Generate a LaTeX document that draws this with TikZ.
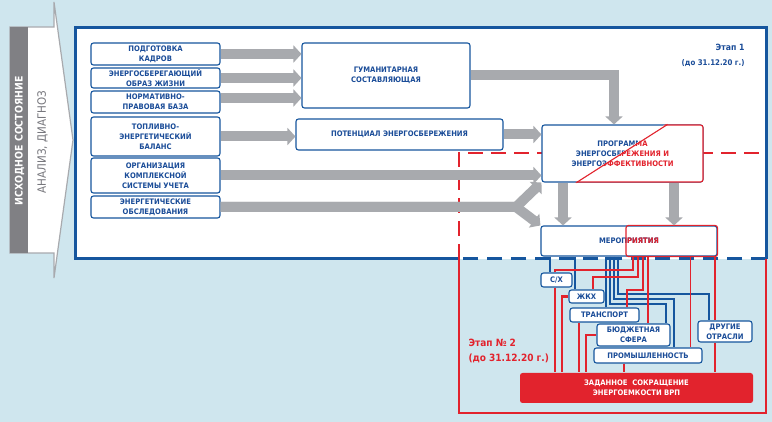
\documentclass[tikz,border=0pt]{standalone}
\usepackage{fontspec}
\newfontfamily\cfont{DejaVu Sans Condensed}
\usetikzlibrary{arrows.meta,positioning}

\definecolor{bgblue}{RGB}{207,230,238}
\definecolor{eblue}{RGB}{22,86,158}
\definecolor{tblue}{RGB}{26,76,152}
\definecolor{ered}{RGB}{226,35,45}
\definecolor{agray}{RGB}{168,170,174}
\definecolor{dgray}{RGB}{128,128,132}
\definecolor{tgray}{RGB}{118,118,124}

\newcommand{\lbl}{\cfont\bfseries\fontsize{7.6}{10}\selectfont}

\begin{document}
\begin{tikzpicture}[x=1pt,y=-1pt,
  box/.style={draw=eblue,fill=white,rounded corners=2.5pt,line width=1.1pt,align=center,text=tblue,font=\lbl,inner sep=0pt},
  garrow/.style={agray,line width=10pt,-{Triangle[length=8pt,width=17pt]}},
  bwire/.style={draw=eblue,line width=2.2pt},
  rwire/.style={draw=ered,line width=2.2pt}]

    % Frame and stages
	\useasboundingbox (0,0) rectangle (772,422);
	\fill[bgblue] (0,0) rectangle (772,422);
	\draw[agray,line width=1.2pt,fill=white] (10,27) -- (54,27) -- (54,2) -- (73,140) -- (54,278) -- (54,253) -- (10,253) -- cycle;
	\fill[dgray] (10,27) rectangle (28,253);
	\node [rotate=90,text=white,font=\cfont\bfseries\fontsize{10.4}{12}\selectfont] at (19.5,141) (start) {ИСХОДНОЕ СОСТОЯНИЕ};
	\node [rotate=90,text=tgray,font=\cfont\fontsize{11.5}{12}\selectfont] at (42.5,142) (diag) {АНАЛИЗ,\ ДИАГНОЗ};

	\fill[white] (75,28) rectangle (766,259);
	\draw[eblue,line width=3pt] (459,259) -- (75,259) -- (75,28) -- (766,28) -- (766,259);
	\draw[eblue,line width=3pt,dash pattern=on 15pt off 9pt] (766,259) -- (459,259);
	\draw[ered,line width=2.4pt,dash pattern=on 15pt off 8pt] (459,259) -- (459,153) -- (766,153);
	\draw[ered,line width=2.4pt] (766,259) -- (766,413) -- (459,413) -- (459,259);

	\node [anchor=north east,align=right,text=tblue,font=\cfont\bfseries\fontsize{7.8}{14.5}\selectfont] at (748,41) (et1) {\fontsize{8.6}{14.5}\selectfont Этап 1\\(до 31.12.20 г.)};
	\node [anchor=north west,align=left,text=ered,font=\cfont\bfseries\fontsize{10}{14.5}\selectfont] at (465,336) (et2) {Этап № 2\\(до 31.12.20 г.)};

    % The boxes
	\node [box,minimum width=129pt,minimum height=22pt] at (155.5,54) (kadry) {ПОДГОТОВКА\\КАДРОВ};
	\node [box,minimum width=129pt,minimum height=20pt] at (155.5,78) (obraz) {ЭНЕРГОСБЕРЕГАЮЩИЙ\\ОБРАЗ ЖИЗНИ};
	\node [box,minimum width=129pt,minimum height=22pt] at (155.5,102) (norm) {НОРМАТИВНО-\\ПРАВОВАЯ БАЗА};
	\node [box,minimum width=129pt,minimum height=39pt] at (155.5,136.5) (balans) {ТОПЛИВНО-\\ЭНЕРГЕТИЧЕСКИЙ\\БАЛАНС};
	\node [box,minimum width=129pt,minimum height=35pt] at (155.5,175.5) (uchet) {ОРГАНИЗАЦИЯ\\КОМПЛЕКСНОЙ\\СИСТЕМЫ УЧЕТА};
	\node [box,minimum width=129pt,minimum height=22pt] at (155.5,207) (obsl) {ЭНЕРГЕТИЧЕСКИЕ\\ОБСЛЕДОВАНИЯ};

	\node [box,minimum width=168pt,minimum height=65pt] at (386,75.5) (hum) {ГУМАНИТАРНАЯ\\СОСТАВЛЯЮЩАЯ};
	\node [box,minimum width=207pt,minimum height=31pt] at (399.5,134.5) (pot) {ПОТЕНЦИАЛ ЭНЕРГОСБЕРЕЖЕНИЯ};
	\node [box,minimum width=161pt,minimum height=57pt] at (622.5,153.5) (prog) {ПРОГРАММА\\ЭНЕРГОСБЕРЕЖЕНИЯ И\\ЭНЕРГОЭФФЕКТИВНОСТИ};
	\begin{scope}
	\clip (675,118) -- (712,118) -- (712,190) -- (564,190) -- cycle;
	\node [box,draw=ered,text=ered,minimum width=161pt,minimum height=57pt] at (prog) (progR) {ПРОГРАММА\\ЭНЕРГОСБЕРЕЖЕНИЯ И\\ЭНЕРГОЭФФЕКТИВНОСТИ};
	\end{scope}
	\draw[ered,line width=1.1pt] ([xshift=-36pt]prog.north east) -- ([xshift=35pt]prog.south west);

	\node [box,minimum width=176pt,minimum height=30pt] at (629,241) (mer) {МЕРОПРИЯТИЯ};
	\draw[ered,line width=1.1pt,rounded corners=2.5pt] ([xshift=-3pt]mer.north) rectangle (mer.south east);
	\begin{scope}
	\clip (626,220) rectangle (720,262);
	\node [box,draw=none,fill=none,text=ered,minimum width=176pt,minimum height=30pt] at (mer) (merR) {МЕРОПРИЯТИЯ};
	\end{scope}

	% Graph edges
	\path[garrow]
	(kadry.east) edge (kadry.east -| hum.west)
	(obraz.east) edge (obraz.east -| hum.west)
	([yshift=4pt]norm.east) edge ([yshift=4pt]norm.east -| hum.west)
	(balans.east) edge (balans.east -| pot.west)
	(pot.east) edge (pot.east -| prog.west)
	(uchet.east) edge (uchet.east -| prog.west)
	([xshift=-59.5pt]prog.south) edge ([xshift=-59.5pt]prog.south |- mer.north)
	([xshift=51.5pt]prog.south) edge ([xshift=51.5pt]prog.south |- mer.north)
	;
	\coordinate (split) at (516,207);
	\draw[garrow] (hum.east) -| ([xshift=-8.5pt]prog.north);
	\draw[garrow] (obsl.east) -- (split) -- (prog.south west);
	\draw[garrow] (obsl.east) -- (split) -- (mer.north west);

    % Sectors
	\node [box,minimum width=31pt,minimum height=14pt] at (556.5,280) (sx) {С/Х};
	\node [box,minimum width=35pt,minimum height=13pt] at (586.5,296.5) (zhkh) {ЖКХ};
	\node [box,minimum width=69pt,minimum height=14pt] at (604.5,315) (trans) {ТРАНСПОРТ};
	\node [box,minimum width=73pt,minimum height=22pt] at (633.5,335) (budzh) {БЮДЖЕТНАЯ\\СФЕРА};
	\node [box,minimum width=108pt,minimum height=15pt] at (648,355.5) (prom) {ПРОМЫШЛЕННОСТЬ};
	\node [box,minimum width=54pt,minimum height=21pt] at (725,331.5) (drug) {ДРУГИЕ\\ОТРАСЛИ};
	\node [box,draw=none,fill=ered,text=white,minimum width=233pt,minimum height=30pt] at (636.5,388) (goal) {ЗАДАННОЕ\ \ СОКРАЩЕНИЕ\\ЭНЕРГОЕМКОСТИ ВРП};

	% Sector wires
	\draw[bwire] (mer.south -| 550,0) -- (sx.north -| 550,0);
	\draw[bwire] (mer.south -| 575,0) -- (zhkh.north -| 575,0);
	\draw[bwire] (mer.south -| 606,0) -- (trans.north -| 606,0);
	\draw[bwire] (mer.south -| 610,0) |- (666,304) -- (budzh.north -| 666,0);
	\draw[bwire] (mer.south -| 614,0) |- (674,299) -- (prom.north -| 674,0);
	\draw[bwire] (mer.south -| 618,0) |- (709,294) -- (drug.north -| 709,0);

	\draw[rwire] (mer.south -| 633,0) |- (555,270) -- (sx.north -| 555,0);
	\draw[rwire] (mer.south -| 638,0) |- (593,277) -- (zhkh.north -| 593,0);
	\draw[rwire] (mer.south -| 643,0) |- (627,290) -- (trans.north -| 627,0);
	\draw[rwire] (mer.south -| 648,0) -- (budzh.north -| 648,0);
	\draw[rwire,line width=1pt] (mer.south -| 690,0) -- (prom.north -| 690,0);
	\draw[rwire] (mer.south -| 715,0) -- (drug.north -| 715,0);

	\draw[rwire] (sx.south -| 555,0) -- (goal.north -| 555,0);
	\draw[rwire] (zhkh.west) -| (goal.north -| 562,0);
	\draw[rwire] (trans.south -| 579,0) -- (goal.north -| 579,0);
	\draw[rwire] (budzh.west) -| (goal.north -| 586,0);
	\draw[rwire] (prom.south -| 624,0) -- (goal.north -| 624,0);
	\draw[rwire] (drug.south -| 715,0) -- (goal.north -| 715,0);

\end{tikzpicture}
\end{document}
